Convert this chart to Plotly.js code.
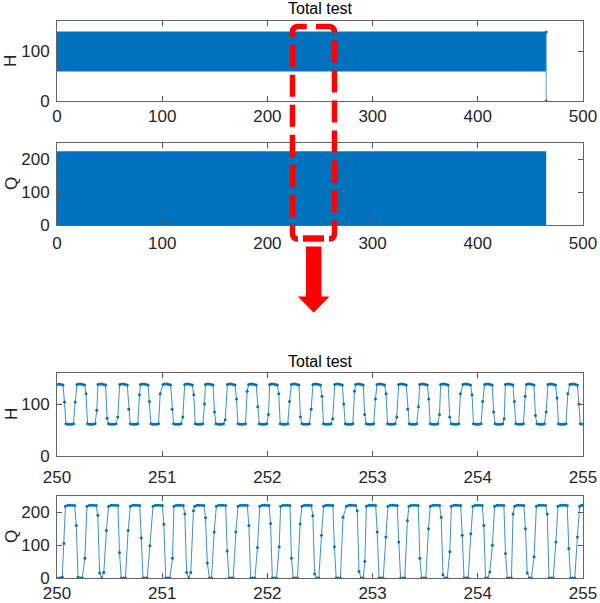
<!DOCTYPE html>
<html>
<head>
<meta charset="utf-8">
<script src="https://cdn.plot.ly/plotly-3.0.1.min.js"></script>
<style>html,body{margin:0;padding:0;background:#fff}#chart{width:600px;height:603px}</style>
</head>
<body>
<div id="chart"></div>
<script>
// ---- Overview (0-500 s): envelope of the dense signal ----
const overviewT = [0, 465];
const hOverviewLow = [60, 60];
const hOverviewHigh = [138, 138];
const qOverviewLow = [0, 0];
const qOverviewHigh = [223, 223];
const hEndT = [465, 465];
const hEndV = [138, 0];

// ---- Zoom (250-255 s) ----
const hT = [
250.000,250.021,250.039,250.057,250.071,250.085,250.103,250.121,250.139,250.157,250.173,
250.190,250.208,250.226,250.244,250.262,250.276,250.290,250.308,250.326,250.344,250.362,250.378,
250.390,250.408,250.426,250.444,250.462,250.476,250.490,250.508,250.526,250.544,250.562,250.578,
250.596,250.614,250.632,250.650,250.668,250.682,250.696,250.714,250.732,250.750,250.768,250.784,
250.793,250.811,250.829,250.847,250.865,250.879,250.893,250.911,250.929,250.947,250.965,250.981,
251.008,251.026,251.044,251.062,251.080,251.094,251.108,251.126,251.144,251.162,251.180,251.196,
251.214,251.232,251.250,251.268,251.286,251.300,251.314,251.332,251.350,251.368,251.386,251.402,
251.411,251.429,251.447,251.465,251.483,251.497,251.511,251.529,251.547,251.565,251.583,251.599,
251.620,251.638,251.656,251.674,251.692,251.706,251.720,251.738,251.756,251.774,251.792,251.808,
251.822,251.840,251.858,251.876,251.894,251.908,251.922,251.940,251.958,251.976,251.994,252.010,
252.022,252.040,252.058,252.076,252.094,252.108,252.122,252.140,252.158,252.176,252.194,252.210,
252.228,252.246,252.264,252.282,252.300,252.314,252.328,252.346,252.364,252.382,252.400,252.416,
252.433,252.451,252.469,252.487,252.505,252.519,252.533,252.551,252.569,252.587,252.605,252.621,
252.640,252.658,252.676,252.694,252.712,252.726,252.740,252.758,252.776,252.794,252.812,252.828,
252.839,252.857,252.875,252.893,252.911,252.925,252.939,252.957,252.975,252.993,253.011,253.027,
253.042,253.060,253.078,253.096,253.114,253.128,253.142,253.160,253.178,253.196,253.214,253.230,
253.248,253.266,253.284,253.302,253.320,253.334,253.348,253.366,253.384,253.402,253.420,253.436,
253.448,253.466,253.484,253.502,253.520,253.534,253.548,253.566,253.584,253.602,253.620,253.636,
253.647,253.665,253.683,253.701,253.719,253.733,253.747,253.765,253.783,253.801,253.819,253.835,
253.859,253.877,253.895,253.913,253.931,253.945,253.959,253.977,253.995,254.013,254.031,254.047,
254.065,254.083,254.101,254.119,254.137,254.151,254.165,254.183,254.201,254.219,254.237,254.251,
254.262,254.280,254.298,254.316,254.334,254.348,254.362,254.380,254.398,254.416,254.434,254.450,
254.462,254.480,254.498,254.516,254.534,254.548,254.562,254.580,254.598,254.616,254.634,254.650,
254.667,254.685,254.703,254.721,254.739,254.753,254.767,254.785,254.803,254.821,254.839,254.855,
254.875,254.893,254.911,254.929,254.947,254.961,254.975,255.000
];
const hV = [
138,139,138,137,104,62,61,61,61,62,104,
138,139,139,138,137,120,62,61,61,61,62,88,
138,139,139,138,137,73,62,61,61,61,62,75,
138,139,139,138,137,90,62,61,61,61,62,118,
138,139,139,138,137,105,62,61,61,61,62,120,
138,139,139,138,137,90,62,61,61,61,62,75,
138,139,139,138,137,118,62,61,61,61,62,100,
138,139,139,138,137,85,62,61,61,61,62,70,
138,139,139,138,137,110,62,61,61,61,62,125,
138,139,139,138,137,95,62,61,61,61,62,80,
138,139,139,138,137,120,62,61,61,61,62,105,
138,139,139,138,137,75,62,61,61,61,62,90,
138,139,139,138,137,115,62,61,61,61,62,72,
138,139,139,138,137,100,62,61,61,61,62,125,
138,139,139,138,137,80,62,61,61,61,62,110,
138,139,139,138,137,120,62,61,61,61,62,75,
138,139,139,138,137,90,62,61,61,61,62,95,
138,139,139,138,137,110,62,61,61,61,62,80,
138,139,139,138,137,75,62,61,61,61,62,120,
138,139,139,138,137,118,62,61,61,61,62,105,
138,139,139,138,137,85,62,61,61,61,62,72,
138,139,139,138,137,105,62,61,61,61,62,115,
138,139,139,138,137,78,62,61,61,61,62,85,
138,139,139,138,137,112,62,61,61,61,62,120,
138,139,139,138,137,100,62,61
];
const qT = [
250.000,250.025,250.050,250.066,
250.080,250.102,250.124,250.146,250.168,250.183,250.200,250.220,250.240,250.265,
250.285,250.307,250.329,250.351,250.373,250.388,250.405,250.425,250.445,250.470,
250.491,250.513,250.535,250.557,250.579,250.594,250.611,250.631,250.651,250.676,
250.698,250.720,250.742,250.764,250.786,250.801,250.818,250.838,250.858,250.883,
250.913,250.935,250.957,250.979,251.001,251.016,251.033,251.053,251.073,251.098,
251.112,251.134,251.156,251.178,251.200,251.215,251.232,251.252,251.272,251.297,
251.309,251.331,251.353,251.375,251.397,251.412,251.429,251.449,251.469,251.494,
251.515,251.537,251.559,251.581,251.603,251.618,251.635,251.655,251.675,251.700,
251.721,251.743,251.765,251.787,251.809,251.824,251.841,251.861,251.881,251.906,
251.927,251.949,251.971,251.993,252.015,252.030,252.047,252.067,252.087,252.112,
252.126,252.148,252.170,252.192,252.214,252.229,252.246,252.266,252.286,252.311,
252.329,252.351,252.373,252.395,252.417,252.432,252.449,252.469,252.489,252.514,
252.534,252.556,252.578,252.600,252.622,252.637,252.654,252.674,252.694,252.719,
252.751,252.773,252.795,252.817,252.839,252.854,252.871,252.891,252.911,252.926,
252.941,252.963,252.985,253.007,253.029,253.044,253.061,253.081,253.101,253.126,
253.146,253.168,253.190,253.212,253.234,253.249,253.266,253.286,253.306,253.331,
253.346,253.368,253.390,253.412,253.434,253.449,253.466,253.486,253.506,253.531,
253.549,253.571,253.593,253.615,253.637,253.652,253.669,253.689,253.709,253.734,
253.749,253.771,253.793,253.815,253.837,253.852,253.869,253.889,253.909,253.934,
253.954,253.976,253.998,254.020,254.042,254.057,254.074,254.094,254.114,254.139,
254.160,254.182,254.204,254.226,254.248,254.263,254.280,254.300,254.320,254.335,
254.350,254.372,254.394,254.416,254.438,254.453,254.470,254.490,254.510,254.535,
254.557,254.579,254.601,254.623,254.645,254.660,254.677,254.697,254.717,254.742,
254.762,254.784,254.806,254.828,254.850,254.865,254.882,254.902,254.922,254.947,
254.968,254.985,255.000
];
const qV = [
0,0,3,105,
219,222,222,222,221,160,2,0,0,60,
219,222,222,222,221,191,15,0,17,145,
219,222,222,222,221,78,0,0,0,145,
219,222,222,222,221,122,0,0,0,98,
219,222,222,222,221,164,0,0,0,60,
219,222,222,222,221,195,17,0,17,205,
219,222,222,222,221,184,46,0,0,140,
219,222,222,222,221,82,0,0,0,140,
219,222,222,222,221,160,0,0,0,93,
219,222,222,222,221,166,0,0,0,95,
219,222,222,222,221,60,0,0,0,165,
219,222,222,222,221,190,12,0,0,130,
219,222,222,222,221,95,0,0,0,185,
219,222,222,222,221,205,20,0,0,50,
219,222,222,222,221,140,0,0,0,125,
219,222,222,222,221,110,0,0,0,175,
219,222,222,222,221,60,0,0,0,150,
219,222,222,222,221,185,10,0,0,80,
219,222,222,222,221,130,0,0,0,135,
219,222,222,222,221,160,0,0,18,100,
219,222,222,222,221,75,0,0,0,195,
219,222,222,222,221,150,15,0,0,65,
219,222,222,222,221,195,0,0,0,110,
219,222,222,222,221,90,0,0,0,125,
219,222,222
];
const overviewTicks = [0, 100, 200, 300, 400, 500];
const zoomTicks = [250, 251, 252, 253, 254, 255];
const hTicks = [0, 100];
const qTicks = [0, 100, 200];
const titleText = 'Total test';
const hLabel = 'H';
const qLabel = 'Q';

// ---- styling ----
const W = 600, H = 603;
const BLUE = '#0072BD';
const FONT = 'Liberation Sans, Arial, sans-serif';
const TICKC = '#262626';
const px = x => x / W;
const py = y => (H - y) / H;

function xAx(domain, range, ticks, anchor, standoff) {
  return {domain: domain, range: range, tickvals: ticks, anchor: anchor,
    ticks: 'inside', ticklen: 5, tickcolor: '#555', showline: true, mirror: 'ticks',
    linecolor: '#666', linewidth: 1, showgrid: false, zeroline: false,
    tickfont: {family: FONT, size: 17, color: TICKC}, ticklabelstandoff: standoff, fixedrange: true};
}
function yAx(domain, range, ticks, anchor) {
  return {domain: domain, range: range, tickvals: ticks, anchor: anchor,
    ticks: 'inside', ticklen: 5, tickcolor: '#555', showline: true, mirror: 'ticks',
    linecolor: '#666', linewidth: 1, showgrid: false, zeroline: false,
    tickfont: {family: FONT, size: 17, color: TICKC}, ticklabelstandoff: 3, fixedrange: true};
}
const xd = [px(57), px(583)];

const traces = [
  {x: overviewT, y: hOverviewLow, xaxis: 'x', yaxis: 'y', mode: 'lines', line: {color: BLUE, width: 1}, hoverinfo: 'skip'},
  {x: overviewT, y: hOverviewHigh, xaxis: 'x', yaxis: 'y', mode: 'lines', fill: 'tonexty', fillcolor: BLUE, line: {color: BLUE, width: 1}, hoverinfo: 'skip'},
  {x: hEndT, y: hEndV, xaxis: 'x', yaxis: 'y', mode: 'lines+markers', line: {color: '#5a9fd6', width: 1}, marker: {color: BLUE, size: 3}, hoverinfo: 'skip'},
  {x: overviewT, y: qOverviewLow, xaxis: 'x2', yaxis: 'y2', mode: 'lines', line: {color: BLUE, width: 1}, hoverinfo: 'skip'},
  {x: overviewT, y: qOverviewHigh, xaxis: 'x2', yaxis: 'y2', mode: 'lines', fill: 'tonexty', fillcolor: BLUE, line: {color: BLUE, width: 1}, hoverinfo: 'skip'},
  {x: hT, y: hV, xaxis: 'x3', yaxis: 'y3', mode: 'lines+markers', line: {color: '#3f8fd0', width: 1}, marker: {color: BLUE, size: 3}},
  {x: qT, y: qV, xaxis: 'x4', yaxis: 'y4', mode: 'lines+markers', line: {color: '#3f8fd0', width: 1}, marker: {color: BLUE, size: 3}}
];

function P(x, y) { return px(x).toFixed(5) + ',' + py(y).toFixed(5); }
const RED = '#FF0000';
const leftPath = 'M' + P(306.7, 26.5) + ' L' + P(298.5, 26.5) + ' Q' + P(292.5, 26.5) + ' ' + P(292.5, 32.5) +
  ' L' + P(292.5, 233) + ' Q' + P(292.5, 239) + ' ' + P(298, 239);
const rightPath = 'M' + P(316, 26.5) + ' L' + P(328.5, 26.5) + ' Q' + P(334.5, 26.5) + ' ' + P(334.5, 32.5) +
  ' L' + P(334.5, 233) + ' Q' + P(334.5, 239) + ' ' + P(329, 239);
const arrowPath = 'M' + P(306, 246.5) + ' L' + P(321.5, 246.5) + ' L' + P(321.5, 296.5) + ' L' + P(329.5, 296.5) +
  ' L' + P(313.7, 312.8) + ' L' + P(297.8, 296.5) + ' L' + P(306, 296.5) + ' Z';

const shapes = [
  {type: 'path', xref: 'paper', yref: 'paper', path: leftPath, line: {color: RED, width: 5.5, dash: '22px,8px'}},
  {type: 'path', xref: 'paper', yref: 'paper', path: rightPath, line: {color: RED, width: 5.5, dash: '22px,8px'}},
  {type: 'rect', xref: 'paper', yref: 'paper', x0: px(303), x1: px(324), y0: py(241.7), y1: py(235.3), fillcolor: RED, line: {width: 0}},
  {type: 'path', xref: 'paper', yref: 'paper', path: arrowPath, fillcolor: RED, line: {width: 0}}
];

const ann = (text, x, y, size, color, angle) => ({text: text, xref: 'paper', yref: 'paper', x: px(x), y: py(y),
  xanchor: 'center', yanchor: 'middle', showarrow: false, textangle: angle || 0,
  font: {family: FONT, size: size, color: color}});

const layout = {
  width: W, height: H, margin: {l: 0, r: 0, t: 0, b: 0},
  paper_bgcolor: '#fff', plot_bgcolor: '#fff', showlegend: false,
  xaxis: xAx(xd, [0, 500], overviewTicks, 'y', 2.5),
  yaxis: yAx([py(101), py(21)], [0, 160], hTicks, 'x'),
  xaxis2: xAx(xd, [0, 500], overviewTicks, 'y2', 3),
  yaxis2: yAx([py(225), py(143)], [0, 250], qTicks, 'x2'),
  xaxis3: xAx(xd, [250, 255], zoomTicks, 'y3', 6),
  yaxis3: yAx([py(456), py(373)], [0, 160], hTicks, 'x3'),
  xaxis4: xAx(xd, [250, 255], zoomTicks, 'y4', 2.2),
  yaxis4: yAx([py(578), py(496)], [0, 250], qTicks, 'x4'),
  shapes: shapes,
  annotations: [
    ann(titleText, 320, 8.5, 16, '#000'),
    ann(titleText, 320, 361, 16, '#000'),
    ann(hLabel, 11, 61, 17, TICKC, -90),
    ann(qLabel, 11, 184, 17, TICKC, -90),
    ann(hLabel, 11, 414, 17, TICKC, -90),
    ann(qLabel, 11, 537, 17, TICKC, -90)
  ]
};

Plotly.newPlot('chart', traces, layout, {staticPlot: true, displayModeBar: false});
</script>
</body>
</html>
